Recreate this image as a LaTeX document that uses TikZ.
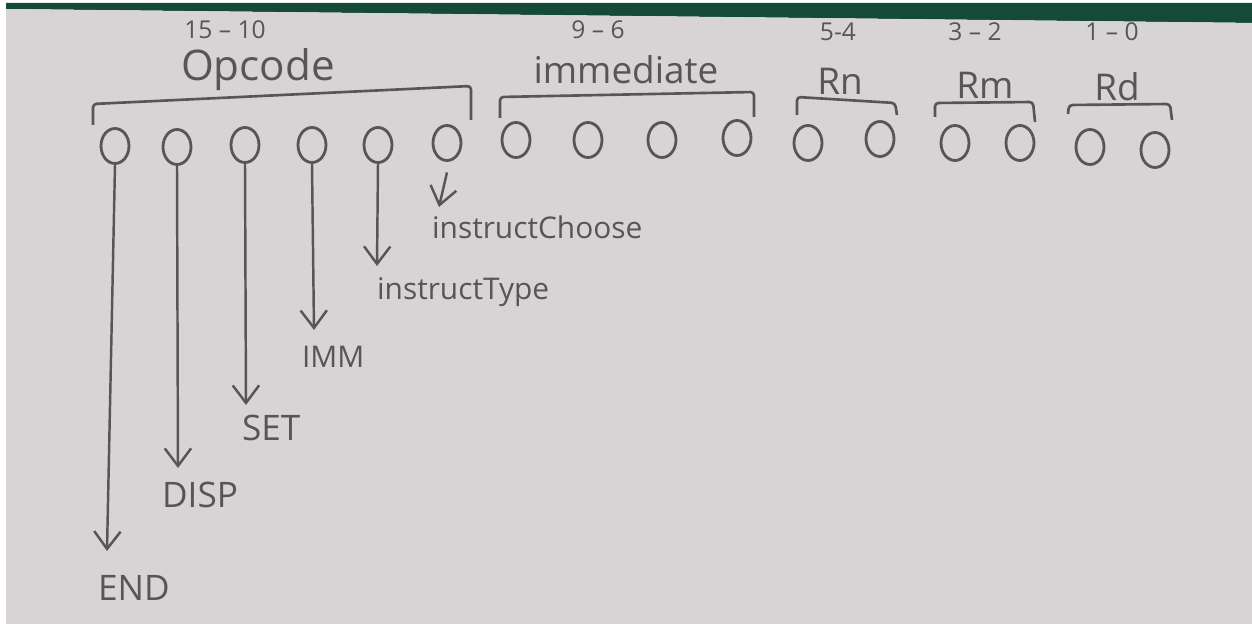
\documentclass[tikz,border=0pt]{standalone}
\usepackage{fontspec}
\setmainfont{Open Sans}
\usetikzlibrary{shapes.geometric,arrows.meta}
\definecolor{paper}{HTML}{D8D4D5}
\definecolor{pen}{HTML}{595455}
\definecolor{board}{HTML}{15493A}
\begin{document}
\begin{tikzpicture}[x=0.02cm,y=-0.02cm,
  bit/.style={ellipse,draw=pen,line width=1.6pt,minimum width=0.56cm,minimum height=0.70cm,inner sep=0pt},
  bracket/.style={draw=pen,line width=1.5pt,rounded corners=2pt},
  fieldname/.style={text=pen,font=\fontsize{21}{25}\selectfont,inner sep=1pt},
  bitrange/.style={text=pen,font=\fontsize{14}{17}\selectfont,inner sep=1pt},
  sig/.style={text=pen,font=\fontsize{17}{20}\selectfont,inner sep=1pt,anchor=west},
  bigsig/.style={sig,font=\fontsize{20}{24}\selectfont},
  arr/.style={draw=pen,line width=1.4pt,-{Straight Barb[length=10pt,width=15pt,line width=1.4pt]}}]
\useasboundingbox (0,0) rectangle (1252,624);
\fill[white] (-5,-5) rectangle (1257,629);
\fill[board] (6,3) -- (1257,3) -- (1257,23) -- (6,9) -- cycle;
\fill[paper] (6,9) -- (1257,23) -- (1257,629) -- (6,629) -- cycle;
% bits
\node[bit] (b1) at (115,146) {};
\node[bit] (b2) at (177,147) {};
\node[bit] (b3) at (245,145) {};
\node[bit] (b4) at (312,145) {};
\node[bit] (b5) at (378,145) {};
\node[bit] (b6) at (447,143) {};
\node[bit] (b7) at (516,140) {};
\node[bit] (b8) at (588,140) {};
\node[bit] (b9) at (662,140) {};
\node[bit] (b10) at (737,138) {};
\node[bit] (b11) at (808,143) {};
\node[bit] (b12) at (880,139) {};
\node[bit] (b13) at (955,143) {};
\node[bit] (b14) at (1020,143) {};
\node[bit] (b15) at (1090,147) {};
\node[bit] (b16) at (1155,150) {};
% brackets
\draw[bracket] (93,125) -- (93,104) -- (471,86) -- (471,120);
\draw[bracket] (500,118) -- (500,97) -- (754,92) -- (754,117);
\draw[bracket] (797,115) -- (797,97) -- (895,103) -- (897,115);
\draw[bracket] (935,117) -- (935,103) -- (1033,102) -- (1035,122);
\draw[bracket] (1068,114) -- (1069,105) -- (1170,104) -- (1172,120);
% field labels
\node[bitrange] (r1) at (225,30) {15 -- 10};
\node[fieldname,font=\fontsize{24}{28}\selectfont] (f1) at (258,70) {Opcode};
\node[bitrange] (r2) at (598,30) {9 -- 6};
\node[fieldname] (f2) at (626,70) {immediate};
\node[bitrange] (r3) at (838,32) {5-4};
\node[fieldname] (f3) at (840,81) {Rn};
\node[bitrange] (r4) at (975,32) {3 -- 2};
\node[fieldname] (f4) at (985,85) {Rm};
\node[bitrange] (r5) at (1112,32) {1 -- 0};
\node[fieldname] (f5) at (1117,87) {Rd};
% signal labels
\node[bigsig] (l1) at (96,588) {END};
\node[bigsig] (l2) at (160,495) {DISP};
\node[bigsig] (l3) at (240,428) {SET};
\node[sig] (l4) at (300,357) {IMM};
\node[sig] (l5) at (375,292) {instructType};
\node[sig] (l6) at (430,227) {instructChoose};
% arrow ends
\coordinate (e1) at (107,551);
\coordinate (e2) at (178,468);
\coordinate (e3) at (246,405);
\coordinate (e4) at (314,330);
\coordinate (e5) at (377,266);
\coordinate (e6) at (439,207);
\draw[arr] (b1.south) -- (e1);
\draw[arr] (b2.south) -- (e2);
\draw[arr] (b3.south) -- (e3);
\draw[arr] (b4.south) -- (e4);
\draw[arr] (b5.south) -- (e5);
\draw[arr] ([yshift=-6pt]b6.south) -- (e6);
\end{tikzpicture}
\end{document}
